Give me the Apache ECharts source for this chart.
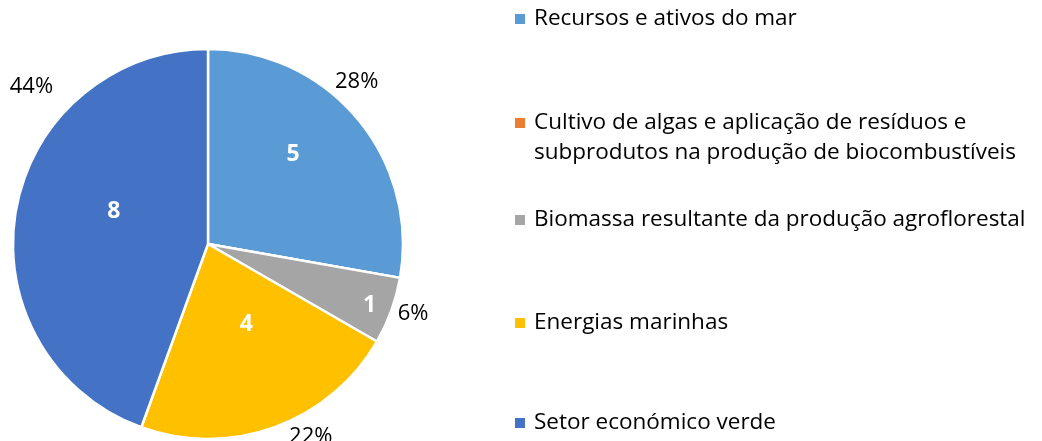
<!DOCTYPE html>
<html>
<head>
<meta charset="utf-8">
<script src="https://cdn.jsdelivr.net/npm/echarts@6/dist/echarts.min.js"></script>
<style>
  html, body { margin: 0; padding: 0; background: #fff; }
  #chart { width: 1042px; height: 441px; }
</style>
</head>
<body>
<div id="chart"></div>
<script>
// categorias e valores (numero de projetos)
const categories = [
  'Recursos e ativos do mar',
  'Cultivo de algas e aplicação de resíduos e subprodutos na produção de biocombustíveis',
  'Biomassa resultante da produção agroflorestal',
  'Energias marinhas',
  'Setor económico verde'
];
const values = [5, 0, 1, 4, 8];
const colors = ['#5B9BD5', '#ED7D31', '#A5A5A5', '#FFC000', '#4472C4'];

const font = '"Open Sans", Lato, sans-serif';
const pieData = categories.map((c, i) => ({ name: c, value: values[i], itemStyle: { color: colors[i] } }));

// uma legenda por item, para imitar o espaçamento do Excel
const legendTops = [4, 108, 205, 308, 408];
const legends = categories.map((c, i) => {
  const twoLines = i === 1;
  return {
    data: [c],
    orient: 'vertical',
    left: 515,
    top: legendTops[i],
    padding: 0,
    // no item de duas linhas o quadrado fica na primeira linha
    icon: twoLines ? 'path://M0,0h10v10h-10zM0,40h0.01v0.01h-0.01z' : 'rect',
    itemWidth: 10,
    itemHeight: twoLines ? 40 : 10,
    itemStyle: { borderWidth: 0 },
    selectedMode: false,
    formatter: twoLines
      ? () => 'Cultivo de algas e aplicação de resíduos e\nsubprodutos na produção de biocombustíveis'
      : null,
    textStyle: {
      fontFamily: font,
      fontSize: 22.5,
      color: '#000',
      lineHeight: 30,
      padding: [0, 0, 0, 4]
    }
  };
});

const chart = echarts.init(document.getElementById('chart'));
chart.setOption({
  animation: false,
  legend: legends,
  series: [
    {
      type: 'pie',
      center: [208, 244],
      radius: 195,
      startAngle: 90,
      clockwise: true,
      percentPrecision: 0,
      silent: true,
      avoidLabelOverlap: false,
      itemStyle: { borderColor: '#fff', borderWidth: 2.5 },
      label: {
        show: true,
        position: 'outside',
        fontFamily: font,
        fontSize: 22,
        color: '#000',
        formatter: p => (p.value ? p.percent + '%' : '')
      },
      labelLine: { show: false, length: 10, length2: 0 },
      // ajustes manuais como no Excel
      labelLayout: p => {
        if (p.dataIndex === 0) return { dx: -35, dy: -30 };
        if (p.dataIndex === 2) return { dx: -8, dy: 0 };
        if (p.dataIndex === 3) return { dx: 6, dy: 0 };
        if (p.dataIndex === 4) return { dx: 52, dy: -122 };
        return {};
      },
      data: pieData
    },
    {
      // camada só para os valores dentro das fatias
      type: 'pie',
      center: [208, 244],
      radius: 242,
      startAngle: 90,
      clockwise: true,
      silent: true,
      z: 3,
      itemStyle: { color: 'transparent', borderWidth: 0 },
      label: {
        show: true,
        position: 'inside',
        fontFamily: font,
        fontSize: 23,
        fontWeight: 'bold',
        color: '#fff',
        formatter: p => (p.value ? String(p.value) : '')
      },
      labelLine: { show: false },
      labelLayout: p => {
        if (p.dataIndex === 0) return { dx: -10, dy: -10 };
        if (p.dataIndex === 2) return { dx: 45, dy: 19 };
        if (p.dataIndex === 3) return { dx: -4, dy: -36 };
        if (p.dataIndex === 4) return { dx: 28, dy: -11 };
        return {};
      },
      data: categories.map((c, i) => ({ name: c, value: values[i] }))
    }
  ]
});
</script>
</body>
</html>
